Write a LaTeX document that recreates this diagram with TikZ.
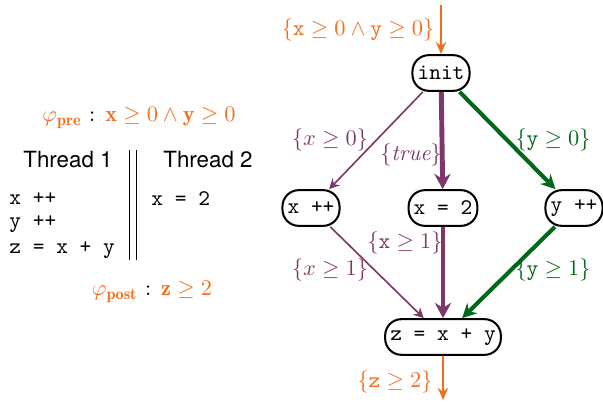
\documentclass[11pt,tikz,border=0pt]{standalone}
\usepackage{amsmath}
\usepackage{fontspec}
\setsansfont{TeX Gyre Heros}
\usetikzlibrary{arrows.meta}
\definecolor{specorange}{RGB}{240,110,30}
\definecolor{thpurple}{RGB}{125,55,105}
\definecolor{thgreen}{RGB}{0,105,25}
\tikzset{
  stmt/.style={draw, line width=1pt, rounded corners=8pt, minimum height=17.5pt, inner xsep=2.5pt, font=\ttfamily},
  thinflow/.style={-{Stealth[length=5pt,width=5pt]}, thpurple, line width=0.8pt},
  boldflow/.style={-{Stealth[length=7.5pt,width=8pt]}, thpurple, line width=2.4pt},
  greenflow/.style={-{Stealth[length=7pt,width=7pt]}, thgreen, line width=2pt},
  specflow/.style={-{Stealth[length=6pt,width=5pt]}, specorange, line width=1pt},
}
\begin{document}
\begin{tikzpicture}[x=0.01724cm, y=-0.01724cm]
        \useasboundingbox (0,0) rectangle (603,402);

        % Program with its specification
        \node (pre) at (139,118) {{\color{specorange}$\varphi_{\mathbf{pre}}$} : {\color{specorange}$\mathbf{x}\geq 0\wedge\mathbf{y}\geq 0$}};
        \node (post) at (152,292) {{\color{specorange}$\varphi_{\mathbf{post}}$} : {\color{specorange}$\mathbf{z}\geq 2$}};
        \node[font=\sffamily] (th1) at (68,160) {Thread 1};
        \node[font=\sffamily] (th2) at (208,160) {Thread 2};
        \node[anchor=west,font=\ttfamily,inner sep=0pt] (l1) at (9,199) {x ++};
        \node[anchor=west,font=\ttfamily,inner sep=0pt] (l2) at (9,224) {y ++};
        \node[anchor=west,font=\ttfamily,inner sep=0pt] (l3) at (9,250) {z = x + y};
        \node[anchor=west,font=\ttfamily,inner sep=0pt] (r1) at (151,199) {x = 2};
        \draw (129,150) -- (129,260);
        \draw (136,150) -- (136,260);

        % Statements
        \node[stmt] (init) at (441,73) {init};
        \node[stmt] (xinc) at (311,208) {x ++};
        \node[stmt] (xset) at (443,208) {x = 2};
        \node[stmt] (yinc) at (574,208) {y ++};
        \node[stmt] (zsum) at (443,337) {z = x + y};
        \coordinate (entry) at (441,5);
        \coordinate (exit) at (443,400);

        % Flows
        \draw[specflow] (entry) -- (init);
        \draw[thinflow] (init) -- (xinc);
        \draw[boldflow] (init) -- (xset);
        \draw[greenflow] (init) -- (yinc);
        \draw[thinflow] (xinc) -- (zsum);
        \draw[boldflow] (xset) -- (zsum);
        \draw[greenflow] (yinc) -- (zsum);
        \draw[specflow] (zsum) -- (exit);

        % Assertions
        \node[specorange] (a0) at (358,30) {$\{\mathtt{x}\geq 0\wedge\mathtt{y}\geq 0\}$};
        \node[thpurple] (a1) at (330,140) {$\{x\geq 0\}$};
        \node[thpurple] (a2) at (411,155) {$\{\mathit{true}\}$};
        \node[thgreen] (a3) at (553,140) {$\{\mathtt{y}\geq 0\}$};
        \node[thpurple] (a4) at (405,243) {$\{\mathtt{x}\geq 1\}$};
        \node[thpurple] (a5) at (330,270) {$\{x\geq 1\}$};
        \node[thgreen] (a6) at (553,270) {$\{\mathtt{y}\geq 1\}$};
        \node[specorange] (a7) at (395,382) {$\{\mathtt{z}\geq 2\}$};
\end{tikzpicture}
\end{document}
